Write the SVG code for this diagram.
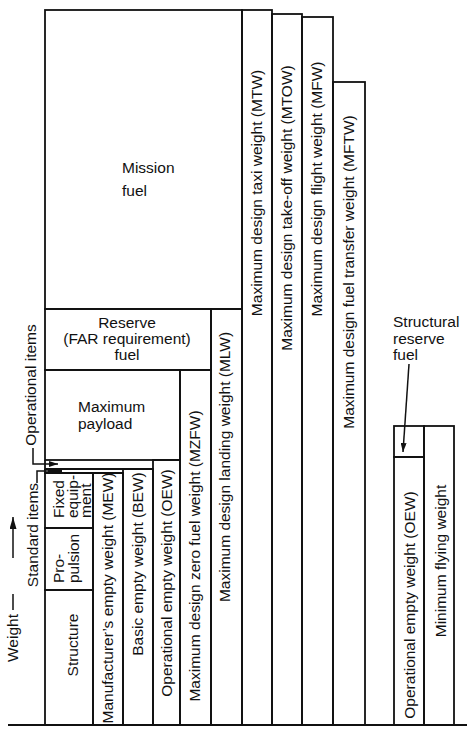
<svg xmlns="http://www.w3.org/2000/svg" width="474" height="741" viewBox="0 0 474 741">
<defs>
<style>
.ln{fill:none;stroke:#111;stroke-width:1.8}
.bl{fill:none;stroke:#111;stroke-width:2.2}
.t{font-family:"Liberation Sans",Arial,Helvetica,sans-serif;font-size:15.5px;fill:#111}
.m{text-anchor:middle}
.c{fill:none;stroke:#111;stroke-width:1.5}
</style>
<marker id="ah" markerUnits="userSpaceOnUse" markerWidth="9" markerHeight="6" refX="9" refY="3" orient="auto"><path d="M0,0 L9,3 L0,6 z" fill="#111"/></marker>
<marker id="ahb" markerUnits="userSpaceOnUse" markerWidth="12" markerHeight="7" refX="12" refY="3.5" orient="auto"><path d="M0,0 L12,3.5 L0,7 z" fill="#111"/></marker>
<marker id="ahl" markerUnits="userSpaceOnUse" markerWidth="14" markerHeight="5" refX="14" refY="2.5" orient="auto"><path d="M0,0 L14,1.5 L14,3.5 L0,5 z" fill="#111"/></marker>
</defs>
<rect width="474" height="741" fill="#fff"/>

<g id="baseline"><line class="bl" x1="8" y1="725" x2="467" y2="725"/></g>

<g id="mission-fuel"><rect class="ln" x="45" y="10" width="197" height="299"/>
<text class="t" x="122" y="173">Mission</text><text class="t" x="122" y="196">fuel</text></g>

<g id="reserve-fuel"><rect class="ln" x="45" y="309" width="166" height="61"/>
<text class="t m" x="127" y="328">Reserve</text><text class="t m" x="127" y="344">(FAR requirement)</text><text class="t m" x="127" y="360">fuel</text></g>

<g id="maximum-payload"><rect class="ln" x="45" y="370" width="135" height="90"/>
<text class="t" x="78" y="412">Maximum</text><text class="t" x="78" y="429">payload</text></g>

<g id="operational-band"><path class="ln" d="M45,460 V469 H153"/></g>
<g id="standard-band"><path class="ln" d="M45,469 V473 H123"/></g>

<g id="fixed-equipment"><rect class="ln" x="45" y="473" width="48" height="55"/>
<text class="t" transform="translate(64,518) rotate(-90)">Fixed</text>
<text class="t" transform="translate(77.5,518) rotate(-90)">equip-</text>
<text class="t" transform="translate(91,518) rotate(-90)">ment</text></g>

<g id="propulsion"><rect class="ln" x="45" y="528" width="48" height="62"/>
<text class="t" transform="translate(64,583) rotate(-90)">Pro-</text>
<text class="t" transform="translate(79,583) rotate(-90)">pulsion</text></g>

<g id="structure"><rect class="ln" x="45" y="590" width="48" height="135"/>
<text class="t m" transform="translate(78,645) rotate(-90)">Structure</text></g>

<g id="mew"><rect class="ln" x="93" y="473" width="30" height="252"/>
<text class="t m" transform="translate(113,598) rotate(-90)">Manufacturer’s empty weight (MEW)</text></g>

<g id="bew"><rect class="ln" x="123" y="469" width="30" height="256"/>
<text class="t m" transform="translate(143,564) rotate(-90)">Basic empty weight (BEW)</text></g>

<g id="oew"><rect class="ln" x="153" y="460" width="27" height="265"/>
<text class="t m" transform="translate(172,583) rotate(-90)">Operational empty weight (OEW)</text></g>

<g id="mzfw"><rect class="ln" x="180" y="370" width="31" height="355"/>
<text class="t m" transform="translate(200,556) rotate(-90)">Maximum design zero fuel weight (MZFW)</text></g>

<g id="mlw"><rect class="ln" x="211" y="309" width="31" height="416"/>
<text class="t m" transform="translate(230,467) rotate(-90)">Maximum design landing weight (MLW)</text></g>

<g id="mtw"><rect class="ln" x="242" y="10" width="30" height="715"/>
<text class="t m" transform="translate(262,193) rotate(-90)">Maximum design taxi weight (MTW)</text></g>

<g id="mtow"><rect class="ln" x="272" y="14" width="30" height="711"/>
<text class="t m" transform="translate(292,208) rotate(-90)">Maximum design take-off weight (MTOW)</text></g>

<g id="mfw"><rect class="ln" x="302" y="17" width="31" height="708"/>
<text class="t m" transform="translate(322,189) rotate(-90)">Maximum design flight weight (MFW)</text></g>

<g id="mftw"><rect class="ln" x="333" y="82" width="32" height="643"/>
<text class="t m" transform="translate(354,272) rotate(-90)">Maximum design fuel transfer weight (MFTW)</text></g>

<g id="structural-reserve-fuel"><rect class="ln" x="394" y="426" width="30" height="31"/>
<text class="t" x="393" y="327">Structural</text><text class="t" x="393" y="344">reserve</text><text class="t" x="393" y="360">fuel</text></g>

<g id="oew-right"><rect class="ln" x="394" y="457" width="30" height="268"/>
<text class="t m" transform="translate(415,605) rotate(-90)">Operational empty weight (OEW)</text></g>

<g id="minimum-flying-weight"><rect class="ln" x="424" y="426" width="30" height="299"/>
<text class="t m" transform="translate(446,561) rotate(-90)">Minimum flying weight</text></g>

<g id="operational-items-label"><text class="t m" transform="translate(36,385) rotate(-90)">Operational items</text></g>
<g id="standard-items-label"><text class="t m" transform="translate(38,535) rotate(-90)">Standard items</text></g>
<g id="weight-label"><text class="t m" transform="translate(18,638) rotate(-90)">Weight</text></g>

<g id="connectors">
<path class="c" d="M33,448 V464 H58" marker-end="url(#ah)"/>
<path class="c" d="M37,483 V471 H62" marker-end="url(#ahl)"/>
<path class="c" d="M409,364 L403,452" marker-end="url(#ah)"/>
<path class="c" d="M13,610 V594"/>
<path class="c" d="M13,558 V517" marker-end="url(#ahb)"/>
</g>
</svg>
